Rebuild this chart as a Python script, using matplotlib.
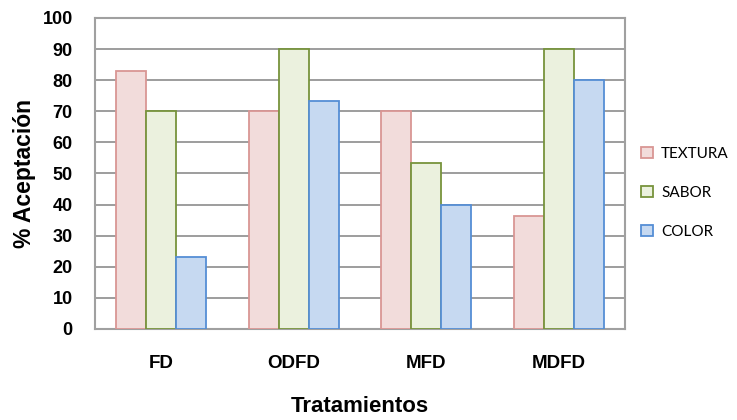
import matplotlib
matplotlib.use("Agg")
import matplotlib.pyplot as plt
import numpy as np

categories = ["FD", "ODFD", "MFD", "MDFD"]
series_names = ["TEXTURA", "SABOR", "COLOR"]
textura = [83, 70, 70, 36.3]
sabor = [70, 90, 53.3, 90]
color = [23, 73.3, 40, 80]
yticks = [0, 10, 20, 30, 40, 50, 60, 70, 80, 90, 100]

faces = ["#F2DCDB", "#EBF1DE", "#C6D9F1"]
edges = ["#D99694", "#77933C", "#558ED5"]

plt.rcParams['font.family'] = ['Liberation Sans', 'DejaVu Sans']

fig = plt.figure(figsize=(7.37, 4.2), dpi=100)
ax = fig.add_axes([0.1289, 0.2167, 0.7195, 0.7405])

x = np.arange(len(categories))
w = 0.226
for i, (name, vals) in enumerate(zip(series_names, [textura, sabor, color])):
    ax.bar(x + (i - 1) * w, vals, width=w, color=faces[i], edgecolor=edges[i],
           linewidth=1.3, label=name, zorder=3)

ax.set_xlim(-0.5, len(categories) - 0.5)
ax.set_ylim(0, 100)
ax.set_yticks(yticks)
ax.set_yticklabels([str(t) for t in yticks], fontsize=13, fontweight='bold')
ax.set_xticks(x)
ax.set_xticklabels(categories, fontsize=13.5, fontweight='bold')
ax.tick_params(axis='x', length=0, pad=19)
ax.tick_params(axis='y', length=0, pad=16)
ax.yaxis.grid(True, color='#8C8C8C', linewidth=1.2, zorder=0)
ax.set_axisbelow(True)
for s in ax.spines.values():
    s.set_color('#A0A0A0')
    s.set_linewidth(1.5)

ax.set_xlabel("Tratamientos", fontsize=16, fontweight='bold', labelpad=17)
ax.set_ylabel("% Aceptación", fontsize=16.5, fontweight='bold', labelpad=5)

leg = ax.legend(loc='center left', bbox_to_anchor=(1.01, 0.438), frameon=False,
                borderaxespad=0.3,
                prop={'family': ['Lato', 'DejaVu Sans'], 'size': 11},
                handlelength=0.8, handleheight=0.8, labelspacing=1.62, handletextpad=0.5)

fig.savefig("out.png", dpi=100)
